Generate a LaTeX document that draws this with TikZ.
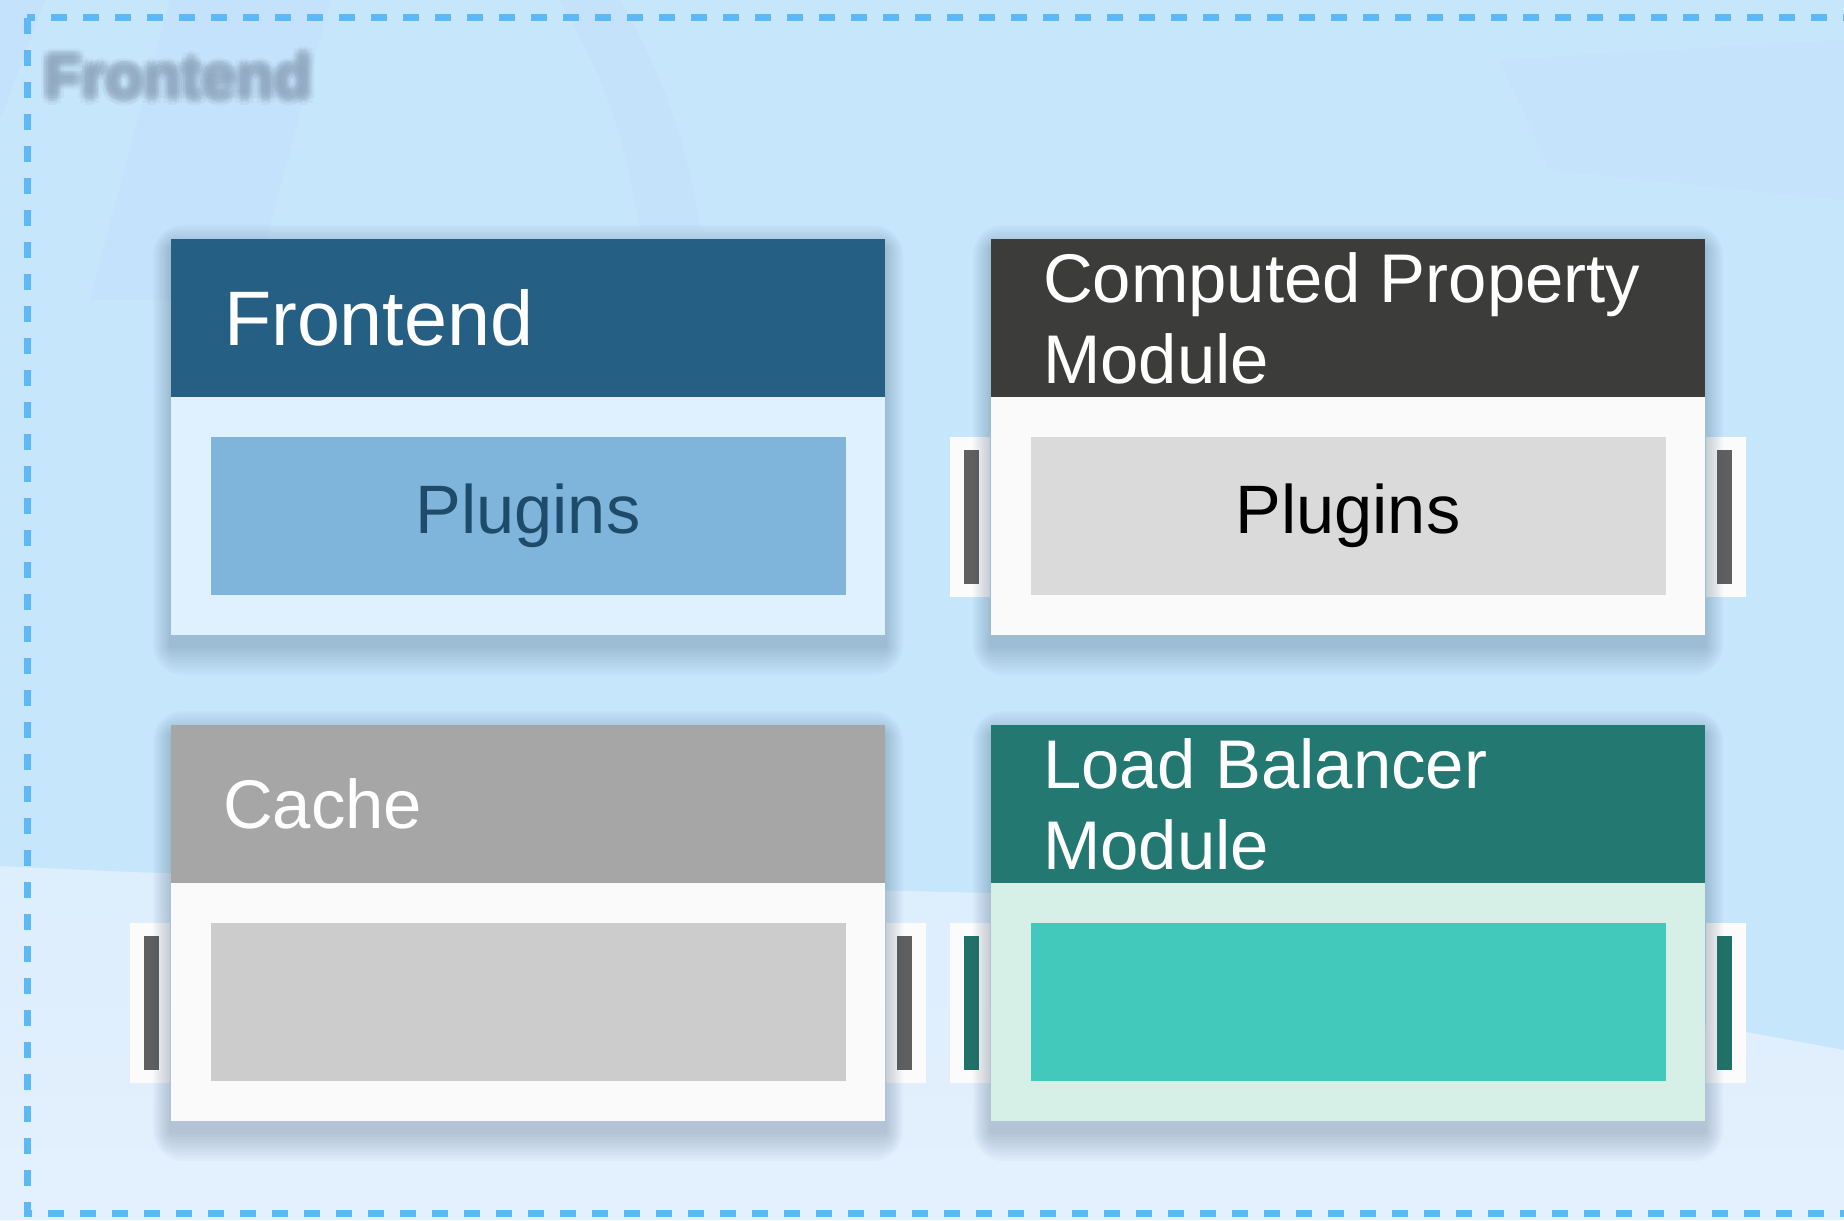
\documentclass[tikz,border=0pt]{standalone}
\usepackage{fontspec}
\setmainfont{Liberation Sans}
\usetikzlibrary{calc,positioning}
\usepackage{xcolor}
\definecolor{bgBlue}{HTML}{C6E6FC}
\definecolor{bgBand}{HTML}{C3DCFB}
\definecolor{bgLow}{HTML}{E4F0FD}
\definecolor{frameBlue}{HTML}{5CB9F5}
\definecolor{wmGray}{HTML}{8FA6BD}
\definecolor{shadowInk}{HTML}{33506E}
\definecolor{feHead}{HTML}{265F84}
\definecolor{feBody}{HTML}{DFF0FE}
\definecolor{feSlot}{HTML}{7FB5DB}
\definecolor{feText}{HTML}{1E4B6A}
\definecolor{cpHead}{HTML}{3C3C3B}
\definecolor{plainBody}{HTML}{FAFAFA}
\definecolor{cpSlot}{HTML}{DADADA}
\definecolor{caHead}{HTML}{A6A6A6}
\definecolor{caSlot}{HTML}{CCCCCC}
\definecolor{lbHead}{HTML}{247872}
\definecolor{lbBody}{HTML}{D6F0E8}
\definecolor{lbSlot}{HTML}{43C9BC}
\definecolor{lbBar}{HTML}{217168}
\definecolor{barGray}{HTML}{5F5F5F}
\definecolor{tabWhite}{HTML}{FBFBFB}

\begin{document}
\begin{tikzpicture}[x=0.1mm,y=-0.1mm]
    \pgfmathsetmacro{\W}{1844}	%page size in px
    \pgfmathsetmacro{\Ht}{1220}
    \useasboundingbox (0,0) rectangle (\W,\Ht);
    \clip (0,0) rectangle (\W,\Ht);

    \tikzset{
        cardbox/.style={rectangle, inner sep=0pt, minimum width=71.4mm, minimum height=39.6mm, fill=#1},
        cardhead/.style={rectangle, anchor=north, fill=#1, inner sep=0pt, minimum width=71.4mm, minimum height=15.8mm},
        headtext/.style={anchor=west, text=white, inner sep=0pt, align=left, font=\fontsize{19.6}{23}\selectfont},
        cardslot/.style={rectangle, fill=#1, inner sep=0pt, minimum width=63.5mm, minimum height=15.8mm,
            font=\fontsize{19.5}{23}\selectfont},
        sidetab/.style={rectangle, fill=tabWhite, inner sep=0pt, minimum width=4mm, minimum height=16mm},
        sidebar/.style={rectangle, fill=#1, inner sep=0pt, minimum width=1.5mm, minimum height=13.4mm},
        watermark/.style={text=wmGray, font=\bfseries\fontsize{17.6}{20}\selectfont},
        frame/.style={draw=frameBlue, line width=0.7mm, dash pattern=on 1.6mm off 1.6mm}
    }

    % backdrop with soft bands
    \fill[bgBlue] (0,0) rectangle (\W,\Ht);
    \fill[bgBand, opacity=.35] (0,0) -- (45,0) -- (0,120) -- cycle;
    \fill[bgBand, opacity=.35] (170,0) -- (330,0) -- (250,300) -- (90,300) -- cycle;
    \fill[bgBand, opacity=.3] (560,0) to[bend left=10] (640,230) -- (700,230) to[bend right=10] (620,0) -- cycle;
    \fill[bgBand, opacity=.25] (1500,60) -- (\W,40) -- (\W,200) -- (1550,170) -- cycle;
    \shade[top color=bgLow!75!bgBlue, bottom color=bgLow]
        (0,866) -- (130,872) -- (990,893) -- (\W,1050) -- (\W,\Ht) -- (0,\Ht) -- cycle;

    % blurred title in the corner
    \coordinate (wmC) at (178,76);
    \foreach \a in {0,45,...,315} {
        \node[watermark, opacity=.12] (wmA\a) at ($(wmC)+(\a:7)$) {Frontend};
        \node[watermark, opacity=.16] (wmB\a) at ($(wmC)+(\a+22:3.5)$) {Frontend};
    }
    \node[watermark, opacity=.2] (wm) at (wmC) {Frontend};

    \draw[frame] (27,18) rectangle (1860,1213);

    % card centres
    \coordinate (feC) at (528,437);
    \coordinate (cpC) at (1348,437);
    \coordinate (caC) at (528,923);
    \coordinate (lbC) at (1348,923);

    % side tabs, under the card shadows
    \foreach \k/\b in {cp/barGray, ca/barGray, lb/lbBar} {
        \node[sidetab, anchor=east] (\k TabL) at ($(\k C)+(-357,80)$) {};
        \node[sidetab, anchor=west] (\k TabR) at ($(\k C)+(357,80)$) {};
        \node[sidebar=\b] (\k BarL) at ($(\k TabL)+(1,0)$) {};
        \node[sidebar=\b] (\k BarR) at ($(\k TabR)+(-1,0)$) {};
    }

    % soft drop shadows
    \foreach \k in {fe,cp,ca,lb}
        \foreach \r in {3,6,...,30}
            \fill[shadowInk, opacity=.026, rounded corners=\r*0.1mm]
                ($(\k C)+(-357-0.6*\r,-198-0.8*\r+10)$) rectangle ($(\k C)+(357+0.6*\r,198+\r+10)$);

    \node[cardbox=feBody] (fe) at (feC) {};
    \node[cardhead=feHead] (feHd) at (fe.north) {};
    \node[headtext, font=\fontsize{22}{26}\selectfont] (feTx) at ($(feHd.west)+(53,0)$) {Frontend};
    \node[cardslot=feSlot, text=feText, above=4mm of fe.south] (feSl) {Plugins};

    \node[cardbox=plainBody] (cp) at (cpC) {};
    \node[cardhead=cpHead] (cpHd) at (cp.north) {};
    \node[headtext] (cpTx) at ($(cpHd.west)+(52,0)$) {Computed Property\\Module};
    \node[cardslot=cpSlot, text=black, above=4mm of cp.south] (cpSl) {Plugins};

    \node[cardbox=plainBody] (ca) at (caC) {};
    \node[cardhead=caHead] (caHd) at (ca.north) {};
    \node[headtext] (caTx) at ($(caHd.west)+(52,0)$) {Cache};
    \node[cardslot=caSlot, above=4mm of ca.south] (caSl) {};

    \node[cardbox=lbBody] (lb) at (lbC) {};
    \node[cardhead=lbHead] (lbHd) at (lb.north) {};
    \node[headtext] (lbTx) at ($(lbHd.west)+(52,0)$) {Load Balancer\\Module};
    \node[cardslot=lbSlot, above=4mm of lb.south] (lbSl) {};
\end{tikzpicture}
\end{document}
